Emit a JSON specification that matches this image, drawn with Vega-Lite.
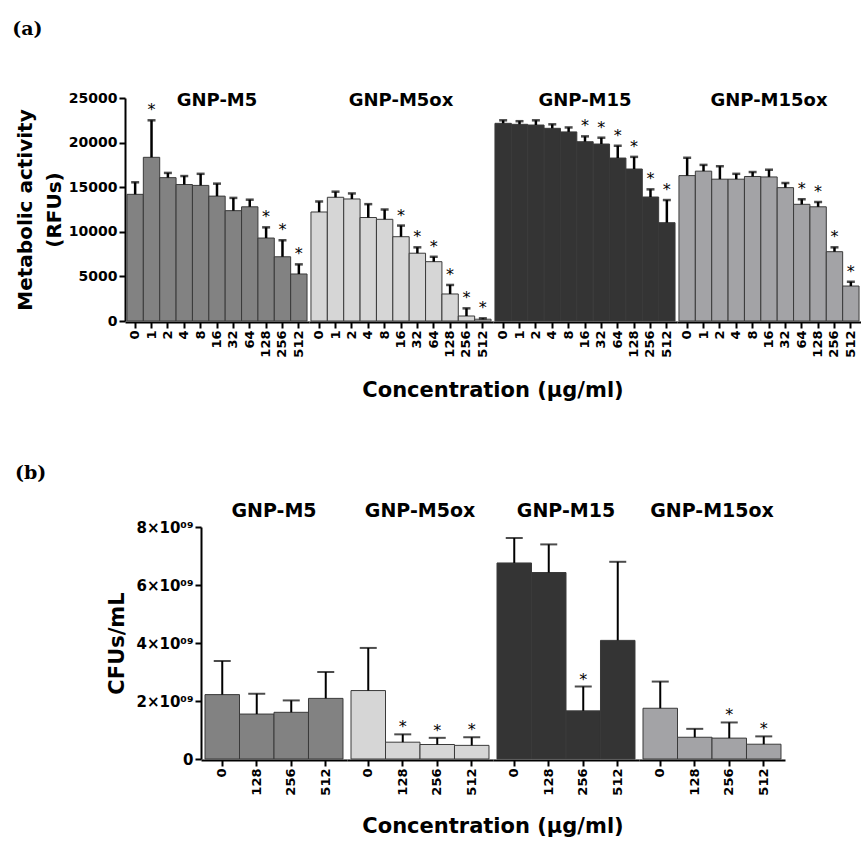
{
  "$schema": "https://vega.github.io/schema/vega-lite/v6.json",
  "background": "white",
  "padding": {"left": 12, "top": 20, "right": 0, "bottom": 0},
  "config": {
    "view": {"stroke": null},
    "font": "DejaVu Sans",
    "axis": {"domainColor": "black", "domainWidth": 2, "tickColor": "black", "tickWidth": 2, "tickSize": 6, "labelColor": "black", "labelFont": "DejaVu Sans", "labelFontWeight": "bold", "titleFont": "DejaVu Sans", "titleFontWeight": "bold", "titleColor": "black", "grid": false, "labelPadding": 2},
    "header": {"labelFont": "DejaVu Sans", "labelFontWeight": "bold", "labelColor": "black", "titleFont": "DejaVu Sans", "titleFontWeight": "bold", "titleColor": "black", "titleOrient": "bottom", "labelOrient": "top"},
    "title": {"font": "DejaVu Serif", "fontSize": 19, "fontWeight": "bold", "anchor": "start", "frame": "bounds", "color": "black"}
  },
  "datasets": {
    "rfu": [
      {"group": "GNP-M5", "conc": "0", "value": 14200, "upper": 15550, "sig": ""},
      {"group": "GNP-M5", "conc": "1", "value": 18350, "upper": 22500, "sig": "*"},
      {"group": "GNP-M5", "conc": "2", "value": 16070, "upper": 16600, "sig": ""},
      {"group": "GNP-M5", "conc": "4", "value": 15300, "upper": 16250, "sig": ""},
      {"group": "GNP-M5", "conc": "8", "value": 15200, "upper": 16500, "sig": ""},
      {"group": "GNP-M5", "conc": "16", "value": 14000, "upper": 15400, "sig": ""},
      {"group": "GNP-M5", "conc": "32", "value": 12370, "upper": 13800, "sig": ""},
      {"group": "GNP-M5", "conc": "64", "value": 12800, "upper": 13600, "sig": ""},
      {"group": "GNP-M5", "conc": "128", "value": 9300, "upper": 10500, "sig": "*"},
      {"group": "GNP-M5", "conc": "256", "value": 7200, "upper": 9050, "sig": "*"},
      {"group": "GNP-M5", "conc": "512", "value": 5270, "upper": 6350, "sig": "*"},
      {"group": "GNP-M5ox", "conc": "0", "value": 12220, "upper": 13400, "sig": ""},
      {"group": "GNP-M5ox", "conc": "1", "value": 13870, "upper": 14500, "sig": ""},
      {"group": "GNP-M5ox", "conc": "2", "value": 13680, "upper": 14300, "sig": ""},
      {"group": "GNP-M5ox", "conc": "4", "value": 11600, "upper": 13100, "sig": ""},
      {"group": "GNP-M5ox", "conc": "8", "value": 11400, "upper": 12500, "sig": ""},
      {"group": "GNP-M5ox", "conc": "16", "value": 9450, "upper": 10700, "sig": "*"},
      {"group": "GNP-M5ox", "conc": "32", "value": 7600, "upper": 8260, "sig": "*"},
      {"group": "GNP-M5ox", "conc": "64", "value": 6650, "upper": 7200, "sig": "*"},
      {"group": "GNP-M5ox", "conc": "128", "value": 3030, "upper": 4040, "sig": "*"},
      {"group": "GNP-M5ox", "conc": "256", "value": 560, "upper": 1420, "sig": "*"},
      {"group": "GNP-M5ox", "conc": "512", "value": 200, "upper": 300, "sig": "*"},
      {"group": "GNP-M15", "conc": "0", "value": 22160, "upper": 22500, "sig": ""},
      {"group": "GNP-M15", "conc": "1", "value": 22050, "upper": 22400, "sig": ""},
      {"group": "GNP-M15", "conc": "2", "value": 21970, "upper": 22500, "sig": ""},
      {"group": "GNP-M15", "conc": "4", "value": 21600, "upper": 22050, "sig": ""},
      {"group": "GNP-M15", "conc": "8", "value": 21200, "upper": 21700, "sig": ""},
      {"group": "GNP-M15", "conc": "16", "value": 20100, "upper": 20700, "sig": "*"},
      {"group": "GNP-M15", "conc": "32", "value": 19840, "upper": 20550, "sig": "*"},
      {"group": "GNP-M15", "conc": "64", "value": 18270, "upper": 19650, "sig": "*"},
      {"group": "GNP-M15", "conc": "128", "value": 17040, "upper": 18400, "sig": "*"},
      {"group": "GNP-M15", "conc": "256", "value": 13900, "upper": 14760, "sig": "*"},
      {"group": "GNP-M15", "conc": "512", "value": 11020, "upper": 13560, "sig": "*"},
      {"group": "GNP-M15ox", "conc": "0", "value": 16300, "upper": 18300, "sig": ""},
      {"group": "GNP-M15ox", "conc": "1", "value": 16800, "upper": 17500, "sig": ""},
      {"group": "GNP-M15ox", "conc": "2", "value": 15900, "upper": 17350, "sig": ""},
      {"group": "GNP-M15ox", "conc": "4", "value": 15900, "upper": 16500, "sig": ""},
      {"group": "GNP-M15ox", "conc": "8", "value": 16200, "upper": 16700, "sig": ""},
      {"group": "GNP-M15ox", "conc": "16", "value": 16150, "upper": 16960, "sig": ""},
      {"group": "GNP-M15ox", "conc": "32", "value": 14950, "upper": 15470, "sig": ""},
      {"group": "GNP-M15ox", "conc": "64", "value": 13080, "upper": 13640, "sig": "*"},
      {"group": "GNP-M15ox", "conc": "128", "value": 12800, "upper": 13340, "sig": "*"},
      {"group": "GNP-M15ox", "conc": "256", "value": 7770, "upper": 8260, "sig": "*"},
      {"group": "GNP-M15ox", "conc": "512", "value": 3920, "upper": 4400, "sig": "*"}
    ],
    "cfu": [
      {"group": "GNP-M5", "conc": "0", "value": 2.22e9, "upper": 3.38e9, "sig": ""},
      {"group": "GNP-M5", "conc": "128", "value": 1.55e9, "upper": 2.25e9, "sig": ""},
      {"group": "GNP-M5", "conc": "256", "value": 1.61e9, "upper": 2.02e9, "sig": ""},
      {"group": "GNP-M5", "conc": "512", "value": 2.09e9, "upper": 3.0e9, "sig": ""},
      {"group": "GNP-M5ox", "conc": "0", "value": 2.36e9, "upper": 3.83e9, "sig": ""},
      {"group": "GNP-M5ox", "conc": "128", "value": 0.58e9, "upper": 0.85e9, "sig": "*"},
      {"group": "GNP-M5ox", "conc": "256", "value": 0.5e9, "upper": 0.73e9, "sig": "*"},
      {"group": "GNP-M5ox", "conc": "512", "value": 0.47e9, "upper": 0.75e9, "sig": "*"},
      {"group": "GNP-M15", "conc": "0", "value": 6.76e9, "upper": 7.62e9, "sig": ""},
      {"group": "GNP-M15", "conc": "128", "value": 6.43e9, "upper": 7.4e9, "sig": ""},
      {"group": "GNP-M15", "conc": "256", "value": 1.66e9, "upper": 2.5e9, "sig": "*"},
      {"group": "GNP-M15", "conc": "512", "value": 4.09e9, "upper": 6.8e9, "sig": ""},
      {"group": "GNP-M15ox", "conc": "0", "value": 1.75e9, "upper": 2.67e9, "sig": ""},
      {"group": "GNP-M15ox", "conc": "128", "value": 0.75e9, "upper": 1.04e9, "sig": ""},
      {"group": "GNP-M15ox", "conc": "256", "value": 0.72e9, "upper": 1.26e9, "sig": "*"},
      {"group": "GNP-M15ox", "conc": "512", "value": 0.51e9, "upper": 0.78e9, "sig": "*"}
    ]
  },
  "center": true,
  "spacing": 63,
  "vconcat": [
    {
      "title": {"text": "(a)", "dx": -3, "offset": 52},
      "data": {"name": "rfu"},
      "spacing": 0,
      "facet": {
        "column": {
          "field": "group", "type": "nominal",
          "sort": ["GNP-M5", "GNP-M5ox", "GNP-M15", "GNP-M15ox"],
          "title": "Concentration (μg/ml)",
          "header": {"labelFontSize": 18, "labelPadding": -12, "titleFontSize": 21, "titlePadding": 12}
        }
      },
      "spec": {
        "width": 184,
        "height": 223,
        "encoding": {
          "x": {
            "field": "conc", "type": "ordinal",
            "sort": ["0", "1", "2", "4", "8", "16", "32", "64", "128", "256", "512"],
            "scale": {"paddingInner": 0, "paddingOuter": 0.12},
            "axis": {"title": null, "labelAngle": -90, "labelFontSize": 13}
          }
        },
        "layer": [
          {
            "mark": {"type": "bar", "stroke": "#3a3a3a", "strokeWidth": 1},
            "encoding": {
              "y": {
                "field": "value", "type": "quantitative",
                "scale": {"domain": [0, 25000], "nice": false},
                "axis": {"values": [0, 5000, 10000, 15000, 20000, 25000], "format": "d", "labelFontSize": 14, "title": ["Metabolic activity", "(RFUs)"], "titleFontSize": 20, "titleLineHeight": 29, "titlePadding": 4}
              },
              "fill": {
                "field": "group", "type": "nominal",
                "scale": {"domain": ["GNP-M5", "GNP-M5ox", "GNP-M15", "GNP-M15ox"], "range": ["#828282", "#d6d6d6", "#343434", "#a3a3a6"]},
                "legend": null
              }
            }
          },
          {
            "mark": {"type": "rule", "strokeWidth": 2.5, "color": "black"},
            "encoding": {"y": {"field": "value", "type": "quantitative"}, "y2": {"field": "upper"}}
          },
          {
            "mark": {"type": "tick", "size": 8, "thickness": 2.5, "color": "black"},
            "encoding": {"y": {"field": "upper", "type": "quantitative"}}
          },
          {
            "mark": {"type": "text", "fontSize": 16, "dy": -5, "baseline": "alphabetic", "color": "black"},
            "encoding": {"y": {"field": "upper", "type": "quantitative"}, "text": {"field": "sig"}}
          }
        ]
      }
    },
    {
      "title": {"text": "(b)", "dx": -92, "offset": 19},
      "data": {"name": "cfu"},
      "spacing": 0,
      "facet": {
        "column": {
          "field": "group", "type": "nominal",
          "sort": ["GNP-M5", "GNP-M5ox", "GNP-M15", "GNP-M15ox"],
          "title": "Concentration (μg/ml)",
          "header": {"labelFontSize": 19, "labelPadding": 2, "titleFontSize": 21, "titlePadding": 10}
        }
      },
      "spec": {
        "width": 146,
        "height": 232,
        "encoding": {
          "x": {
            "field": "conc", "type": "ordinal",
            "sort": ["0", "128", "256", "512"],
            "scale": {"paddingInner": 0, "paddingOuter": 0.116},
            "axis": {"title": null, "labelAngle": -90, "labelFontSize": 13}
          }
        },
        "layer": [
          {
            "mark": {"type": "bar", "stroke": "#3a3a3a", "strokeWidth": 1},
            "encoding": {
              "y": {
                "field": "value", "type": "quantitative",
                "scale": {"domain": [0, 8000000000], "nice": false},
                "axis": {"values": [0, 2000000000, 4000000000, 6000000000, 8000000000], "labelExpr": "datum.value == 0 ? '0' : (datum.value / 1e9) + '×10⁰⁹'", "labelFontSize": 15, "title": "CFUs/mL", "titleFontSize": 21, "titlePadding": 8}
              },
              "fill": {
                "field": "group", "type": "nominal",
                "scale": {"domain": ["GNP-M5", "GNP-M5ox", "GNP-M15", "GNP-M15ox"], "range": ["#828282", "#d6d6d6", "#343434", "#a3a3a6"]},
                "legend": null
              }
            }
          },
          {
            "mark": {"type": "rule", "strokeWidth": 2, "color": "black"},
            "encoding": {"y": {"field": "value", "type": "quantitative"}, "y2": {"field": "upper"}}
          },
          {
            "mark": {"type": "tick", "size": 17, "thickness": 2, "color": "black"},
            "encoding": {"y": {"field": "upper", "type": "quantitative"}}
          },
          {
            "mark": {"type": "text", "fontSize": 16, "dy": -2, "baseline": "alphabetic", "color": "black"},
            "encoding": {"y": {"field": "upper", "type": "quantitative"}, "text": {"field": "sig"}}
          }
        ]
      }
    }
  ]
}
